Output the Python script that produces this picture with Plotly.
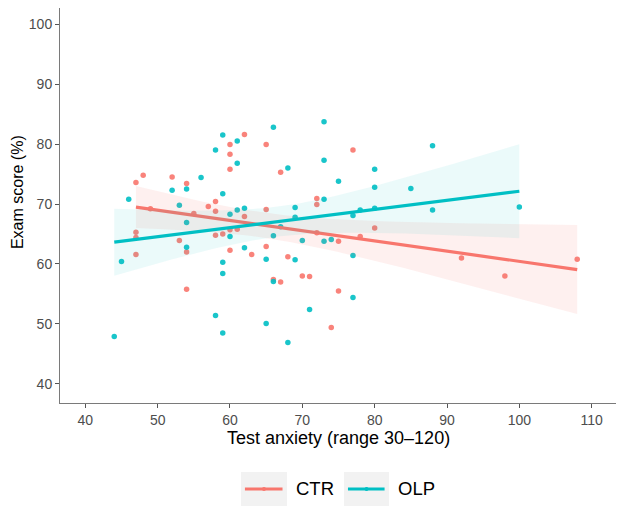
import numpy as np
import plotly.graph_objects as go

# ---- data ----
ctr_anxiety = [47, 48, 49, 52, 54, 55, 57, 58, 58, 60, 60, 60, 62, 62, 65, 65, 67, 72, 72, 77,
               47, 47, 47, 53, 54, 54, 58, 59, 60, 61, 60, 63, 65, 66, 67, 68, 70, 71, 72, 75,
               75, 74, 80, 78, 92, 98, 108]
ctr_score = [73.6, 74.8, 69.2, 74.5, 73.4, 68.4, 69.6, 70.4, 68.8, 79.9, 78.3, 75.8, 81.6, 67.9,
             79.9, 69.1, 75.3, 70.9, 69.9, 79.0, 65.3, 64.4, 61.6, 63.9, 62.0, 55.8, 64.8, 65.0,
             65.7, 65.8, 62.3, 61.6, 62.9, 57.4, 57.0, 61.2, 58.0, 57.9, 65.2, 63.8, 55.5, 49.4,
             66.0, 64.6, 61.0, 58.0, 60.8]
olp_anxiety = [46, 52, 54, 53, 56, 58, 59, 59, 60, 61, 61, 61, 62, 66, 68, 69, 69, 73, 73, 73,
               75, 77, 45, 44, 54, 54, 59, 59, 58, 59, 62, 65, 66, 66, 65, 69, 68, 70, 71, 73,
               74, 77, 77, 67, 88, 80, 80, 85, 80, 78, 88, 100, 60]
olp_score = [70.8, 72.3, 72.5, 69.8, 74.4, 79.0, 81.5, 71.7, 68.3, 80.5, 76.8, 69.0, 69.3, 82.8,
             76.0, 69.4, 67.8, 83.7, 77.3, 70.8, 73.8, 68.1, 60.4, 47.9, 66.9, 62.8, 60.3, 58.4,
             51.4, 48.5, 62.7, 60.8, 57.1, 64.7, 50.1, 60.7, 46.9, 63.9, 52.4, 63.8, 64.1, 61.4,
             54.4, 66.2, 79.7, 75.8, 72.8, 72.6, 69.3, 69.0, 69.0, 69.5, 64.6]

groups = ["CTR", "OLP"]
colors = {"CTR": "#F8766D", "OLP": "#00BFC4"}
fills = {"CTR": "rgba(248,118,109,0.11)", "OLP": "rgba(0,191,196,0.08)"}
x_ticks = [40, 50, 60, 70, 80, 90, 100, 110]
y_ticks = [40, 50, 60, 70, 80, 90, 100]
x_title = "Test anxiety (range 30\u2013120)"
y_title = "Exam score (%)"

data = {"CTR": (ctr_anxiety, ctr_score), "OLP": (olp_anxiety, olp_score)}


def lm_fit(x, y):
    x = np.asarray(x, float)
    y = np.asarray(y, float)
    n = len(x)
    b, a = np.polyfit(x, y, 1)
    resid = y - (a + b * x)
    df = n - 2
    s = np.sqrt(np.sum(resid ** 2) / df)
    sxx = np.sum((x - x.mean()) ** 2)
    xs = np.linspace(x.min(), x.max(), 80)
    fit = a + b * xs
    se = s * np.sqrt(1.0 / n + (xs - x.mean()) ** 2 / sxx)
    t = 1.96 + 2.4 / df
    return xs, fit, fit - t * se, fit + t * se


fig = go.Figure()
for g in groups:
    x, y = data[g]
    fig.add_trace(go.Scatter(x=x, y=y, mode="markers", showlegend=False,
                             marker=dict(color=colors[g], size=5.5, opacity=0.9, line=dict(width=0))))
for g in groups:
    x, y = data[g]
    xs, fit, lo, hi = lm_fit(x, y)
    fig.add_trace(go.Scatter(x=np.concatenate([xs, xs[::-1]]), y=np.concatenate([hi, lo[::-1]]),
                             fill="toself", fillcolor=fills[g], line=dict(width=0),
                             mode="lines", showlegend=False, hoverinfo="skip"))
    fig.add_trace(go.Scatter(x=xs, y=fit, mode="lines", showlegend=False,
                             line=dict(color=colors[g], width=3.2)))

font_family = "Liberation Sans, Arial, sans-serif"
axis_common = dict(showgrid=False, zeroline=False, showline=True, mirror=True, automargin=False,
                   linecolor="#7a7a7a", linewidth=1, ticks="outside", ticklen=4,
                   tickcolor="#555555", tickwidth=1,
                   tickfont=dict(family=font_family, size=14, color="#4d4d4d"))
# the page body adds an 8px offset, so the figure is 8px smaller than the window
fig.update_layout(
    width=616, height=502,
    margin=dict(l=52, r=7, t=0, b=107, autoexpand=False),
    paper_bgcolor="white", plot_bgcolor="white",
    font=dict(family=font_family),
    xaxis=dict(range=[36.5, 113.5], tickvals=x_ticks, **axis_common),
    yaxis=dict(range=[36.83, 102.67], tickvals=y_ticks, **axis_common),
    showlegend=False,
)

# axis titles
fig.add_annotation(xref="paper", yref="paper", x=0.5, y=-0.088, text=x_title, showarrow=False,
                   xanchor="center", yanchor="middle",
                   font=dict(family=font_family, size=18, color="black"))
fig.add_annotation(xref="paper", yref="paper", x=-0.0772, y=0.534, text=y_title, showarrow=False,
                   textangle=-90, xanchor="center", yanchor="middle",
                   font=dict(family=font_family, size=16, color="black"))

# ---- legend drawn below the panel ----
ly = -0.2177
legend_items = [("CTR", 0.325, 0.4075, 0.4219), ("OLP", 0.510, 0.5907, 0.605)]
for name, bx0, bx1, tx in legend_items:
    fig.add_shape(type="rect", xref="paper", yref="paper", x0=bx0, x1=bx1, y0=-0.2608, y1=-0.1747,
                  fillcolor="#f2f2f2", line=dict(width=0), layer="below")
    fig.add_shape(type="line", xref="paper", yref="paper", x0=bx0 + 0.007, x1=bx1 - 0.008,
                  y0=ly, y1=ly, line=dict(color=colors[name], width=3.2))
    cx = (bx0 + bx1) / 2
    fig.add_shape(type="circle", xref="paper", yref="paper", x0=cx - 0.0036, x1=cx + 0.0036,
                  y0=ly - 0.005, y1=ly + 0.005, fillcolor=colors[name],
                  line=dict(width=0))
    fig.add_annotation(xref="paper", yref="paper", x=tx - 0.002, y=ly, text=name, showarrow=False,
                       xanchor="left", yanchor="middle",
                       font=dict(family=font_family, size=18.5, color="black"))

fig.write_html("out.html")
